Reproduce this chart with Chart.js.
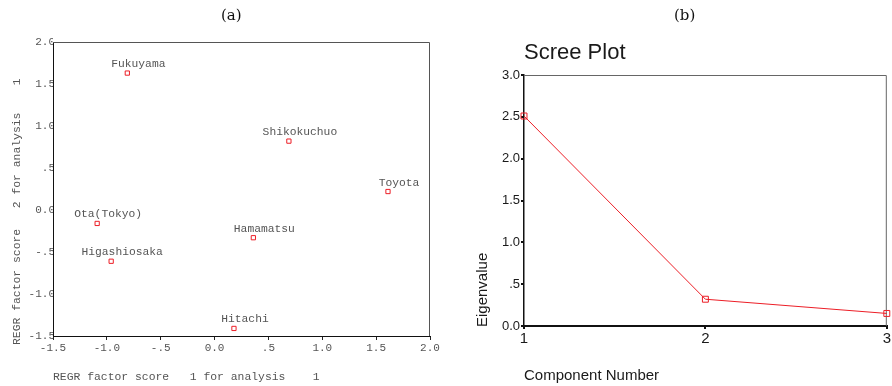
<!DOCTYPE html>
<html>
<head>
<meta charset="utf-8">
<script src="https://cdn.jsdelivr.net/npm/chart.js@4.4.1/dist/chart.umd.min.js"></script>
<style>
  body { margin: 0; background: #fff; }
  #wrap { position: relative; width: 892px; height: 386px; overflow: hidden; }
  canvas { position: absolute; top: 0; }
  #left { left: 0; }
  #right { left: 470px; }
  .panel { position: absolute; top: 6px; font: 15px "DejaVu Serif", "Liberation Serif", serif; color: #111; }
</style>
</head>
<body>
<div id="wrap">
  <canvas id="left" width="460" height="386"></canvas>
  <canvas id="right" width="422" height="386"></canvas>
  <div class="panel" style="left:221px">(a)</div>
  <div class="panel" style="left:674px">(b)</div>
</div>
<script>
// (a) factor scores
const cities = ['Fukuyama', 'Shikokuchuo', 'Toyota', 'Ota(Tokyo)', 'Hamamatsu', 'Higashiosaka', 'Hitachi'];
const factor1 = [-0.81, 0.69, 1.61, -1.09, 0.36, -0.96, 0.18];
const factor2 = [1.63, 0.82, 0.22, -0.16, -0.33, -0.61, -1.41];
const scoreXTicks = [-1.5, -1.0, -0.5, 0.0, 0.5, 1.0, 1.5, 2.0];
const scoreXLabels = ['-1.5', '-1.0', '-.5', '0.0', '.5', '1.0', '1.5', '2.0'];
const scoreYTicks = [-1.5, -1.0, -0.5, 0.0, 0.5, 1.0, 1.5, 2.0];
const scoreYLabels = ['-1.5', '-1.0', '-.5', '0.0', '.5', '1.0', '1.5', '2.0'];

// (b) scree plot
const components = ['1', '2', '3'];
const eigenvalues = [2.51, 0.32, 0.15];
const screeYTicks = [0, 0.5, 1.0, 1.5, 2.0, 2.5, 3.0];
const screeYLabels = ['0.0', '.5', '1.0', '1.5', '2.0', '2.5', '3.0'];

const red = 'rgb(236,30,38)';
const mono = '"Liberation Mono", "DejaVu Sans Mono", monospace';
const sans = '"Liberation Sans", Arial, sans-serif';

function fixedTicks(values) {
  return (scale) => { scale.ticks = values.map((v) => ({ value: v })); };
}

const boxFrame = {
  id: 'boxFrame',
  beforeDatasetsDraw(chart, args, opts) {
    const a = chart.chartArea;
    const c = chart.ctx;
    c.save();
    c.strokeStyle = opts.color;
    c.lineWidth = 1;
    c.beginPath();
    c.moveTo(a.left, a.top + 0.5);
    c.lineTo(a.right - 0.5, a.top + 0.5);
    c.lineTo(a.right - 0.5, a.bottom);
    c.stroke();
    c.restore();
  }
};

const pointNames = {
  id: 'pointNames',
  afterDatasetsDraw(chart) {
    const c = chart.ctx;
    const meta = chart.getDatasetMeta(0);
    c.save();
    c.font = '11.3px ' + mono;
    c.fillStyle = '#555';
    c.textAlign = 'center';
    c.textBaseline = 'middle';
    meta.data.forEach((pt, i) => {
      c.fillText(cities[i], pt.x + 11, pt.y - 9);
    });
    c.restore();
  }
};

const leftTitles = {
  id: 'leftTitles',
  afterDraw(chart) {
    const c = chart.ctx;
    const a = chart.chartArea;
    c.save();
    c.font = '11.4px ' + mono;
    c.fillStyle = '#555';
    c.textBaseline = 'middle';
    c.textAlign = 'left';
    c.fillText('REGR factor score   1 for analysis    1', a.left, 377);
    c.translate(17, 345);
    c.rotate(-Math.PI / 2);
    c.fillText('REGR factor score   2 for analysis    1', 0, 0);
    c.restore();
  }
};

const rightTitles = {
  id: 'rightTitles',
  afterDraw(chart) {
    const c = chart.ctx;
    const a = chart.chartArea;
    c.save();
    c.fillStyle = '#1a1a1a';
    c.textBaseline = 'middle';
    c.textAlign = 'left';
    c.font = '22px ' + sans;
    c.fillText('Scree Plot', a.left, 53);
    c.font = '15px ' + sans;
    c.fillText('Component Number', a.left, 376);
    c.translate(13, a.bottom + 1);
    c.rotate(-Math.PI / 2);
    c.fillText('Eigenvalue', 0, 0);
    c.restore();
  }
};

new Chart(document.getElementById('left'), {
  type: 'scatter',
  data: {
    datasets: [{
      data: cities.map((n, i) => ({ x: factor1[i], y: factor2[i] })),
      pointStyle: 'rect',
      pointRadius: 3,
      pointBorderWidth: 1,
      pointBorderColor: red,
      pointBackgroundColor: 'rgba(0,0,0,0)',
      clip: 6
    }]
  },
  options: {
    responsive: false,
    animation: false,
    devicePixelRatio: 1,
    layout: { padding: { top: 42, right: 30, left: 0, bottom: 0 } },
    plugins: { legend: { display: false }, tooltip: { enabled: false }, boxFrame: { color: '#555' } },
    scales: {
      x: {
        type: 'linear', min: -1.5, max: 2.0,
        afterBuildTicks: fixedTicks(scoreXTicks),
        afterFit: (s) => { s.height = 50; },
        grid: { drawOnChartArea: false, tickLength: 4, color: '#222' },
        border: { color: '#111', width: 1 },
        ticks: { callback: (v, i) => scoreXLabels[i], font: { family: mono, size: 11 }, color: '#555', padding: 1, maxRotation: 0, autoSkip: false }
      },
      y: {
        type: 'linear', min: -1.5, max: 2.0,
        afterBuildTicks: fixedTicks(scoreYTicks),
        afterFit: (s) => { s.width = 53; },
        grid: { drawOnChartArea: false, drawTicks: false },
        border: { color: '#111', width: 1 },
        ticks: { callback: (v, i) => scoreYLabels[i], font: { family: mono, size: 11 }, color: '#555', padding: -2, autoSkip: false }
      }
    }
  },
  plugins: [boxFrame, pointNames, leftTitles]
});

new Chart(document.getElementById('right'), {
  type: 'line',
  data: {
    labels: components,
    datasets: [{
      data: eigenvalues,
      borderColor: red,
      borderWidth: 1,
      tension: 0,
      pointStyle: 'rect',
      pointRadius: 4.2,
      pointBorderWidth: 1,
      pointBorderColor: red,
      pointBackgroundColor: 'rgba(0,0,0,0)',
      clip: 8
    }]
  },
  options: {
    responsive: false,
    animation: false,
    devicePixelRatio: 1,
    layout: { padding: { top: 75, right: 3, left: 0, bottom: 0 } },
    plugins: { legend: { display: false }, tooltip: { enabled: false }, boxFrame: { color: '#666' } },
    scales: {
      x: {
        type: 'category', offset: false,
        afterFit: (s) => { s.height = 60; },
        grid: { drawOnChartArea: false, tickLength: 3, color: '#111', lineWidth: 2 },
        border: { color: '#111', width: 2 },
        ticks: { font: { family: sans, size: 15 }, color: '#1a1a1a', padding: 1, maxRotation: 0 }
      },
      y: {
        type: 'linear', min: 0, max: 3,
        afterBuildTicks: fixedTicks(screeYTicks),
        afterFit: (s) => { s.width = 54; },
        grid: { drawOnChartArea: false, tickLength: 3, color: '#111', lineWidth: 2 },
        border: { color: '#111', width: 1.5 },
        ticks: { callback: (v, i) => screeYLabels[i], font: { family: sans, size: 13 }, color: '#1a1a1a', padding: 1, autoSkip: false }
      }
    }
  },
  plugins: [boxFrame, rightTitles]
});
</script>
</body>
</html>
